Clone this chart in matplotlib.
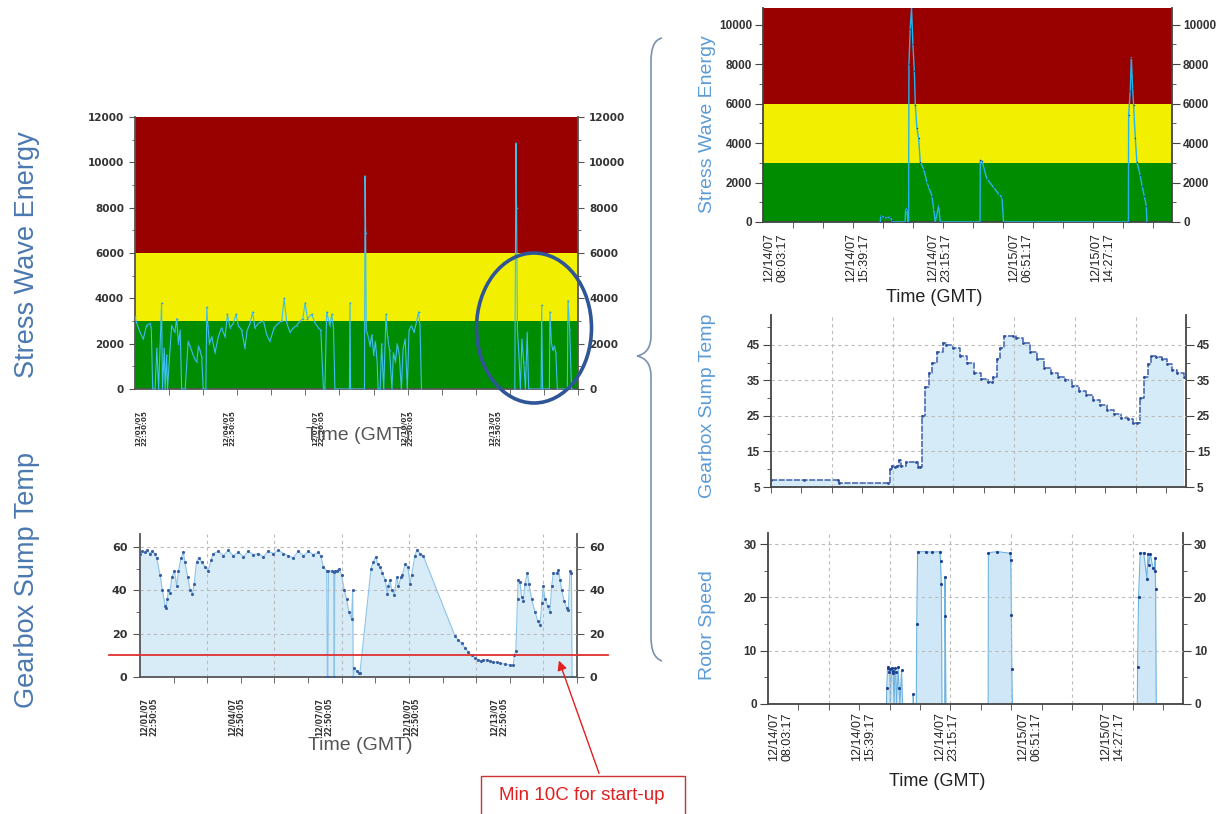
import numpy as np
import matplotlib.pyplot as plt
from matplotlib import patches
from matplotlib.path import Path
from matplotlib.ticker import MultipleLocator

plt.rcParams['font.family'] = ['Liberation Sans', 'DejaVu Sans']

W, H = 1225, 814

# ---------------- left panels: days after 12/01/07 22:50:05
left_span = 15.0
left_label_days = [0, 3, 6, 9, 12]
left_labels = ["12/01/07\n22:50:05", "12/04/07\n22:50:05", "12/07/07\n22:50:05",
               "12/10/07\n22:50:05", "12/13/07\n22:50:05"]

swe_days = [0.00, 0.06, 0.17, 0.28, 0.39, 0.51, 0.55, 0.60, 0.68, 0.74, 0.80, 0.90, 0.93, 0.99,
            1.02, 1.07, 1.10, 1.24, 1.35, 1.41, 1.47, 1.53, 1.58, 1.70, 1.80, 1.86, 1.97, 2.03,
            2.09, 2.15, 2.20, 2.26, 2.31, 2.40, 2.43, 2.47, 2.52, 2.60, 2.71, 2.82, 2.93, 3.05,
            3.13, 3.22, 3.33, 3.42, 3.50, 3.61, 3.72, 3.80, 3.90, 3.98, 4.06, 4.18, 4.35, 4.46,
            4.57, 4.71, 4.85, 4.97, 5.05, 5.14, 5.25, 5.36, 5.47, 5.59, 5.68, 5.76, 5.84, 5.98,
            6.10, 6.21, 6.29, 6.38, 6.43, 6.49, 6.60, 6.66, 6.72, 6.77, 6.85, 7.26, 7.28, 7.30,
            7.77, 7.79, 7.81, 7.83, 7.90, 7.96, 8.02, 8.08, 8.14, 8.20, 8.23, 8.30, 8.35, 8.42,
            8.50, 8.55, 8.62, 8.70, 8.75, 8.82, 8.88, 8.95, 9.02, 9.08, 9.15, 9.22, 9.28, 9.36,
            9.45, 9.52, 9.60, 9.65, 9.70, 9.75,
            12.86, 12.90, 12.92, 12.95, 13.00, 13.05, 13.10, 13.16, 13.22, 13.28, 13.33, 13.75,
            13.77, 13.80, 14.03, 14.05, 14.10, 14.15, 14.20, 14.25, 14.30, 14.64, 14.66, 14.72,
            14.78]
swe_vals = [3200, 2900, 2500, 2200, 2800, 2900, 2700, 0, 0, 1800, 0, 3800, 0, 1800,
            0, 1500, 0, 2800, 2500, 3100, 2000, 2600, 0, 0, 2100, 1900, 1500, 1300,
            1200, 1900, 1700, 1400, 0, 0, 3600, 2800, 2000, 2300, 1600, 2300, 2700, 2300,
            3300, 2700, 2900, 3300, 2800, 2600, 1800, 2600, 2900, 3400, 2700, 2900, 3000, 2400,
            2100, 2700, 2900, 3000, 4000, 2900, 2500, 2700, 2800, 3000, 3100, 3800, 3100, 3300,
            2900, 2700, 2600, 0, 0, 3400, 2800, 3300, 2700, 0, 0, 0, 3800, 0,
            0, 9400, 6900, 2600, 2300, 1900, 2400, 1500, 2100, 1200, 0, 0, 2000, 0,
            3300, 2300, 1700, 0, 1600, 1200, 2000, 1500, 0, 1800, 2200, 0, 2600, 2800,
            2500, 2900, 3400, 2800, 0, np.nan,
            0, 10850, 8000, 2600, 1500, 0, 2200, 1200, 0, 2500, 0, 0,
            3700, 0, 0, 3400, 2000, 1700, 1900, 1600, 0, 0, 3900, 2600,
            0]

temp_days = [0.00, 0.08, 0.17, 0.25, 0.34, 0.42, 0.51, 0.57, 0.69, 0.77, 0.86, 0.89, 0.94, 0.97,
             1.03, 1.09, 1.18, 1.26, 1.32, 1.41, 1.49, 1.54, 1.64, 1.72, 1.80, 1.86, 1.94, 2.02,
             2.12, 2.23, 2.34, 2.44, 2.52, 2.69, 2.86, 3.03, 3.20, 3.38, 3.55, 3.72, 3.89, 4.06,
             4.23, 4.40, 4.58, 4.75, 4.92, 5.09, 5.26, 5.43, 5.61, 5.78, 5.95, 6.12, 6.20, 6.29,
             6.41, 6.43, 6.45, 6.47, 6.58, 6.65, 6.66, 6.67, 6.69, 6.75, 6.83, 6.92, 7.01, 7.09,
             7.17, 7.26, 7.30, 7.32, 7.36, 7.44, 7.52, 7.55, 7.93, 8.01, 8.09, 8.16, 8.24, 8.32,
             8.41, 8.49, 8.52, 8.58, 8.64, 8.73, 8.81, 8.87, 8.96, 9.00, 9.10, 9.19, 9.27, 9.32,
             9.44, 9.50, 9.61, 9.72, 10.81, 10.93, 11.04, 11.15, 11.27, 11.38, 11.50, 11.61,
             11.70, 11.78, 11.90, 12.01, 12.13, 12.24, 12.36, 12.53, 12.70, 12.81, 12.85, 12.90,
             12.96, 12.98, 13.04, 13.10, 13.16, 13.21, 13.30, 13.35, 13.44, 13.56, 13.65, 13.73,
             13.79, 13.84, 13.90, 13.99, 14.07, 14.13, 14.19, 14.30, 14.36, 14.42, 14.47, 14.56,
             14.64, 14.70, 14.76, 14.81, 14.83]
temp_vals = [57, 58, 57.5, 58.5, 57, 58, 57, 55, 47, 40, 33, 32, 36, 40,
             39, 46, 49, 42, 49, 55, 57.5, 53, 46, 40, 38.5, 43, 53, 55,
             53, 51, 49, 54, 57, 58, 56, 58.5, 56, 57.5, 55.5, 58, 56.5, 57,
             55.5, 58, 57, 58.5, 57, 56, 55, 58, 56, 58, 56.5, 57.5, 56, 51,
             49, 0, 0, 49, 49, 48.5, 0, 0, 49, 49, 50, 47, 40, 36,
             30, 27, 40, 0, 4, 3, 2, 2, 50, 53, 55.5, 52, 51, 48,
             45, 38.5, 42, 45, 40, 38, 46, 42, 46, 47, 52, 51, 43, 47,
             56, 58.5, 57, 56, 19, 17, 15.5, 13.5, 11.5, 10, 9, 8,
             7.5, 8, 8, 7.5, 7, 6.7, 6.3, 6, 5.6, 5.5, 10, 12,
             36, 45, 44, 37, 35, 43, 48, 43, 36, 30, 26, 24,
             34, 42, 36, 33, 30, 42, 48, 48, 49.5, 45, 40, 35,
             32, 31, 49, 48, 0]

# ---------------- right panels: hours after 12/14/07 08:03:17
right_span = 38.0
right_label_hours = [0, 7.6, 15.2, 22.8, 30.4]
right_labels = ["12/14/07\n08:03:17", "12/14/07\n15:39:17", "12/14/07\n23:15:17",
                "12/15/07\n06:51:17", "12/15/07\n14:27:17"]

swe2_hours = [10.89, 10.95, 11.2, 11.5, 11.8, 11.98, 12.0, 13.2, 13.25, 13.37, 13.45, 13.53,
              13.56, 13.68, 13.8, 13.93, 14.06, 14.15, 14.3, 14.46, 14.61, 14.92, 15.23, 15.39,
              15.7, 15.85, 16.01, 16.32, 16.47, 20.17, 20.19, 20.34, 20.8, 21.42, 21.89, 22.2,
              22.35, 33.95, 33.97, 34.12, 34.22, 34.34, 34.43, 34.59, 34.74, 35.05, 35.21, 35.42,
              35.61, 35.67]
swe2_vals = [0, 300, 250, 200, 250, 100, 0, 0, 600, 700, 0, 0,
             8000, 9800, 10850, 9000, 7650, 5950, 4750, 4240, 3040, 2700, 2020, 1760,
             1330, 650, 0, 820, 0, 0, 3130, 3100, 2190, 1760, 1420, 1250,
             0, 0, 5430, 6630, 8340, 6800, 5950, 4240, 3040, 2360, 1850, 1330,
             820, 0]

temp2_hours = [0, 3.0, 6.09, 6.2, 10.74, 10.9, 11.1, 11.38, 11.55, 11.71, 11.87, 12.35, 13.31,
               13.47, 13.63, 13.85, 14.11, 14.43, 14.75, 15.23, 15.71, 16.04, 16.68, 17.32, 17.96,
               18.6, 19.24, 19.88, 20.2, 20.36, 20.69, 21.0, 21.33, 22.13, 22.45, 23.09, 23.73,
               24.37, 25.01, 25.66, 26.3, 26.94, 27.58, 28.22, 28.86, 29.5, 30.15, 30.79, 31.43,
               32.07, 32.71, 33.19, 33.51, 33.83, 34.15, 34.48, 34.8, 35.28, 35.76, 36.24, 36.72,
               37.2, 37.84]
temp2_vals = [7, 7, 7, 6, 6, 10, 11, 10.5, 11, 12.5, 11, 12, 12,
              10.5, 10.5, 25, 33, 37, 40, 43, 45.5, 45, 44, 42, 40,
              37, 35.5, 34.5, 34.5, 36, 41, 44, 47.5, 47.5, 46.8, 45.5, 43,
              41, 38.5, 37, 36, 35, 33.5, 32, 31, 29.5, 28, 26.8, 25.5,
              24.5, 24, 23, 23, 30, 36, 39.5, 42, 41.5, 41, 39.5, 38,
              37, 36]

rpm_hours = [0, 10.85, 10.87, 10.95, 11.0, 11.08, 11.16, 11.2, 11.31, 11.4, 11.46, 11.55, 11.62,
             11.7, 11.77, 11.92, 12.0, 12.08, 12.23, 12.32, 13.28, 13.3, 13.33, 13.58, 13.62,
             13.7, 14.5, 15.0, 15.74, 15.8, 15.87, 15.93, 16.18, 16.2, 16.23, 16.29, 20.16,
             20.18, 21.0, 22.16, 22.23, 22.29, 22.32, 22.38, 33.82, 33.84, 33.93, 34.08, 34.4,
             34.7, 34.78, 34.85, 35.0, 35.25, 35.4, 35.45, 35.49, 35.55, 38.0]
rpm_vals = [0, 0, 3, 6.7, 7, 6, 6.5, 0, 6.8, 6.2, 5.9, 0, 6.8,
            6, 0, 6.9, 3, 0, 6.3, 0, 0, 1.8, 0, 0, 15,
            28.6, 28.6, 28.5, 28.6, 26.8, 22.5, 0, 0, 23.8, 16.5, 0, 0,
            28.4, 28.6, 28.3, 27, 16.8, 6.5, 0, 0, 7, 20, 28.3, 28.4,
            23.5, 28.2, 26, 28.2, 25.5, 25, 27.5, 21.5, 0, 0]

band_edges = [0, 3000, 6000, 20000]
band_colors = ['#008c00', '#f2f000', '#990000']
min_start_temp = 10

fig = plt.figure(figsize=(W / 100, H / 100), dpi=100)


def px_axes(x0, y0, x1, y1):
    return fig.add_axes([x0 / W, 1 - y1 / H, (x1 - x0) / W, (y1 - y0) / H])


def frame(ax, color='#555555', lw=1.3):
    ax.spines['top'].set_visible(False)
    for s in ('left', 'right', 'bottom'):
        ax.spines[s].set_color(color)
        ax.spines[s].set_linewidth(lw)
    ax.tick_params(which='both', direction='out', color=color, labelcolor='#333333',
                   left=True, right=True, labelleft=True, labelright=True, top=False)


def tick_fonts(axis, **kw):
    for t in axis.get_major_ticks():
        t.label1.set(**kw)
        t.label2.set(**kw)


def bands(ax):
    for lo, hi, c in zip(band_edges[:-1], band_edges[1:], band_colors):
        ax.axhspan(lo, hi, color=c, lw=0, zorder=0)


def vgrid(ax, step, span):
    for x in np.arange(step, span, step):
        ax.axvline(x, color='#bbbbbb', lw=0.8, ls=(0, (3, 3)), zorder=2.5)


# ---------- left top: stress wave energy
ax = px_axes(135, 117, 578, 389)
frame(ax)
bands(ax)
ax.plot(swe_days, swe_vals, color='#3cc0f0', lw=0.8, marker='.', ms=2.5,
        mfc='#2e9ad8', mec='none', zorder=3)
ax.set_xlim(0, left_span)
ax.set_ylim(0, 12000)
ax.set_yticks(range(0, 12001, 2000))
ax.yaxis.set_minor_locator(MultipleLocator(1000))
tick_fonts(ax.yaxis, family='DejaVu Sans', weight='bold', size=7.5)
ax.set_xticks(left_label_days)
ax.set_xticklabels(left_labels, rotation=90, ha='left', va='top', fontsize=5.2,
                   fontweight='bold', family='DejaVu Sans', linespacing=1.05)
ax.xaxis.set_minor_locator(MultipleLocator(left_span / 13))
ax.tick_params(axis='x', which='major', length=0, pad=15)
ax.tick_params(axis='x', which='minor', length=4)
ax.tick_params(axis='y', which='major', length=4, pad=4)
ax.tick_params(axis='y', which='minor', length=2.5)

# ---------- left bottom: gearbox sump temp
ax = px_axes(140, 534, 577, 677)
frame(ax)
ax.fill_between(temp_days, temp_vals, 0, color='#d8ecf8', lw=0, zorder=1)
ax.plot(temp_days, temp_vals, color='#8cc4e8', lw=0.8, zorder=2)
ax.plot(temp_days, temp_vals, ls='none', marker='.', ms=2.5, color='#3a5fa0', zorder=3)
ax.axhline(min_start_temp, xmin=-0.07, xmax=1.07, color='#e03030', lw=1.3, clip_on=False, zorder=4)
ax.set_xlim(0, left_span)
ax.set_ylim(0, 66)
ax.set_yticks([0, 20, 40, 60])
ax.yaxis.set_minor_locator(MultipleLocator(10))
tick_fonts(ax.yaxis, family='DejaVu Sans', weight='bold', size=8)
ax.grid(axis='y', which='major', color='#bbbbbb', lw=0.8, ls=(0, (3, 3)))
ax.set_axisbelow(False)
vgrid(ax, 2 * left_span / 13, left_span)
ax.set_xticks(left_label_days)
ax.set_xticklabels(left_labels, rotation=90, ha='left', va='top', fontsize=5.6,
                   fontweight='bold', family='DejaVu Sans', linespacing=1.05)
ax.xaxis.set_minor_locator(MultipleLocator(left_span / 13))
ax.tick_params(axis='x', which='major', length=0, pad=15)
ax.tick_params(axis='x', which='minor', length=4)
ax.tick_params(axis='y', which='major', length=5, pad=4)
ax.tick_params(axis='y', which='minor', length=3)

# ---------- right top: stress wave energy
ax = px_axes(763, 8, 1172, 222)
frame(ax, color='#444444')
bands(ax)
ax.plot(swe2_hours, swe2_vals, color='#22b4ec', lw=1.0, marker='.', ms=2,
        mfc='#1d3f70', mec='none', zorder=3)
ax.set_xlim(0, right_span)
ax.set_ylim(0, 10850)
ax.set_yticks(range(0, 10001, 2000))
ax.yaxis.set_minor_locator(MultipleLocator(1000))
tick_fonts(ax.yaxis, weight='bold', size=8.5)
ax.set_xticks(right_label_hours)
ax.set_xticklabels(right_labels, rotation=90, ha='left', va='top', fontsize=9,
                   linespacing=1.15, color='#222222')
ax.xaxis.set_minor_locator(MultipleLocator(right_span / 13.65))
ax.tick_params(axis='x', which='major', length=0, pad=8)
ax.tick_params(axis='x', which='minor', length=4)
ax.tick_params(axis='y', which='major', length=6, pad=2)
ax.tick_params(axis='y', which='minor', length=3)

# ---------- right middle: gearbox sump temp
ax = px_axes(771, 315, 1186, 487)
frame(ax, color='#444444')
ax.fill_between(temp2_hours, temp2_vals, 0, step='post', color='#d6ebf8', lw=0, zorder=1)
ax.step(temp2_hours, temp2_vals, where='post', color='#3d5fae', lw=1.1, ls=(0, (4, 1)), zorder=2)
ax.plot(temp2_hours, temp2_vals, ls='none', marker='.', ms=2, color='#2d4f9a', zorder=3)
ax.set_xlim(0, right_span)
ax.set_ylim(5, 53.4)
ax.set_yticks([5, 15, 25, 35, 45])
ax.yaxis.set_minor_locator(MultipleLocator(5))
tick_fonts(ax.yaxis, weight='bold', size=8.5)
ax.grid(axis='y', which='major', color='#bbbbbb', lw=0.8, ls=(0, (3, 3)))
ax.set_axisbelow(False)
vgrid(ax, 2 * right_span / 13.65, right_span)
ax.set_xticks([])
ax.xaxis.set_minor_locator(MultipleLocator(right_span / 13.65))
ax.tick_params(axis='x', which='minor', length=4)
ax.tick_params(axis='y', which='major', length=6, pad=2)
ax.tick_params(axis='y', which='minor', length=3)

# ---------- right bottom: rotor speed
ax = px_axes(768, 533, 1183, 704)
frame(ax, color='#444444')
ax.fill_between(rpm_hours, rpm_vals, 0, color='#cfe7f6', lw=0, zorder=1)
ax.plot(rpm_hours, rpm_vals, color='#6db3e0', lw=0.8, zorder=2)
top = [(h, v) for h, v in zip(rpm_hours, rpm_vals) if v > 0]
ax.plot([h for h, v in top], [v for h, v in top], ls='none', marker='.', ms=2.5,
        color='#1f3f8f', zorder=3)
ax.set_xlim(0, right_span)
ax.set_ylim(0, 32.1)
ax.set_yticks([0, 10, 20, 30])
ax.yaxis.set_minor_locator(MultipleLocator(5))
tick_fonts(ax.yaxis, weight='bold', size=8.5)
ax.grid(axis='y', which='major', color='#bbbbbb', lw=0.8, ls=(0, (3, 3)))
ax.set_axisbelow(False)
vgrid(ax, 2 * right_span / 13.65, right_span)
ax.set_xticks(right_label_hours)
ax.set_xticklabels(right_labels, rotation=90, ha='left', va='top', fontsize=9,
                   linespacing=1.15, color='#222222')
ax.xaxis.set_minor_locator(MultipleLocator(right_span / 13.65))
ax.tick_params(axis='x', which='major', length=0, pad=6)
ax.tick_params(axis='x', which='minor', length=4)
ax.tick_params(axis='y', which='major', length=6, pad=2)
ax.tick_params(axis='y', which='minor', length=3)


# ---------- figure texts
def ftext(x, y, s, **kw):
    fig.text(x / W, 1 - y / H, s, ha='center', va='center', **kw)


ftext(27, 255, 'Stress Wave Energy', rotation=90, fontsize=19.5, color='#4a78b0')
ftext(27, 580, 'Gearbox Sump Temp', rotation=90, fontsize=19.5, color='#4a78b0')
ftext(707, 124, 'Stress Wave Energy', rotation=90, fontsize=14, color='#5b9bd5')
ftext(707, 406, 'Gearbox Sump Temp', rotation=90, fontsize=14, color='#5b9bd5')
ftext(707, 625, 'Rotor Speed', rotation=90, fontsize=14, color='#5b9bd5')
ftext(358, 436, 'Time (GMT)', fontsize=14, color='#555555')
ftext(360, 745, 'Time (GMT)', fontsize=14, color='#555555')
ftext(934, 298, 'Time (GMT)', fontsize=13, color='#222222')
ftext(937, 781, 'Time (GMT)', fontsize=13, color='#222222')

# blue ellipse around the last spike
fig.add_artist(patches.Ellipse((534 / W, 1 - 328 / H), 115 / W, 150 / H, fill=False,
                               ec='#2f5597', lw=2.6, transform=fig.transFigure))

# curly brace linking left and right panels
pts = [(662, 38), (654, 40), (651, 48), (651, 62), (651, 335), (651, 348), (646, 354),
       (637, 356), (646, 358), (651, 364), (651, 377), (651, 636), (651, 650), (654, 658),
       (662, 661)]
codes = [Path.MOVETO, Path.CURVE4, Path.CURVE4, Path.CURVE4, Path.LINETO, Path.CURVE4,
         Path.CURVE4, Path.CURVE4, Path.CURVE4, Path.CURVE4, Path.CURVE4, Path.LINETO,
         Path.CURVE4, Path.CURVE4, Path.CURVE4]
brace = Path([(x / W, 1 - y / H) for x, y in pts], codes)
fig.add_artist(patches.PathPatch(brace, fill=False, ec='#7a92ad', lw=1.2,
                                 transform=fig.transFigure))

# annotation box and arrow
fig.add_artist(patches.Rectangle((481 / W, 1 - 820 / H), 204 / W, 44 / H, fill=False,
                                 ec='#d03030', lw=1.0, transform=fig.transFigure))
ftext(582, 796, 'Min 10C for start-up', fontsize=13.5, color='#e02020')
fig.add_artist(patches.FancyArrowPatch((600 / W, 1 - 776 / H), (558 / W, 1 - 658 / H),
                                       arrowstyle='-|>', mutation_scale=14, color='#e02020',
                                       lw=1.0, transform=fig.transFigure))

fig.savefig('out.png', dpi=100)
